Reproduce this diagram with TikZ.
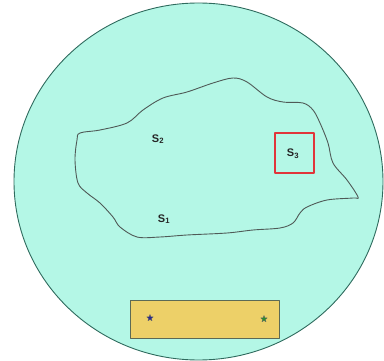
\documentclass[tikz,border=0pt]{standalone}
\usepackage{fontspec}
\setmainfont{Liberation Sans}
\usepackage{tikz}
\usetikzlibrary{shapes.geometric}
\definecolor{seafill}{HTML}{B4F7E6}
\definecolor{seaedge}{HTML}{2F6B5E}
\definecolor{blobedge}{HTML}{4F5A57}
\definecolor{boxred}{HTML}{E0353A}
\definecolor{sandfill}{HTML}{EDD068}
\definecolor{sandedge}{HTML}{5C6A55}
\definecolor{starblue}{HTML}{2A2A8C}
\definecolor{stargreen}{HTML}{2E8B2E}
\tikzset{
    every picture/.style={line cap=round,line join=round},
    setlabel/.style={font=\fontsize{11}{13}\selectfont\bfseries,text=black!85,inner sep=1pt},
    marker/.style={star,star points=5,star point ratio=2.3,minimum size=7pt,
      inner sep=0pt,draw=black!60,line width=0.3pt}
}

\begin{document}
\begin{tikzpicture}[x=1pt,y=-1pt]
  \useasboundingbox (0,0) rectangle (384,361);
  % outer region
  \draw[fill=seafill,draw=seaedge,line width=0.9pt] (198.5,181.5) ellipse [x radius=184.5,y radius=178.5];
  % inner blob
  \draw[blobedge,line width=0.9pt] plot[smooth cycle,tension=0.55] coordinates {
    (80,133) (100,130) (127,123) (143,110) (163,98) (187,92) (213,83) (233,78)
    (247,82) (267,97) (283,102) (303,103) (313,110) (320,123) (328,143) (333,163)
    (347,180) (358,197) (353,198) (327,200) (307,207) (300,213) (293,223) (280,228)
    (253,230) (227,233) (187,235) (160,237) (137,237) (120,227) (113,217) (100,203)
    (87,193) (78,183) (75,160) (77,140)};
  \node[setlabel] (s2) at (158,139) {S\textsubscript{2}};
  \node[setlabel] (s1) at (164,219) {S\textsubscript{1}};
  \draw[boxred,line width=1.3pt] (275,133) rectangle (314,173);
  \node[setlabel] (s3) at (293,154) {S\textsubscript{3}};
  % bottom bar
  \draw[fill=sandfill,draw=sandedge,line width=0.9pt] (130,300) rectangle (279,338);
  \node[marker,fill=starblue] (sb) at (150,318) {};
  \node[marker,fill=stargreen] (sg) at (264,319) {};
\end{tikzpicture}
\end{document}
